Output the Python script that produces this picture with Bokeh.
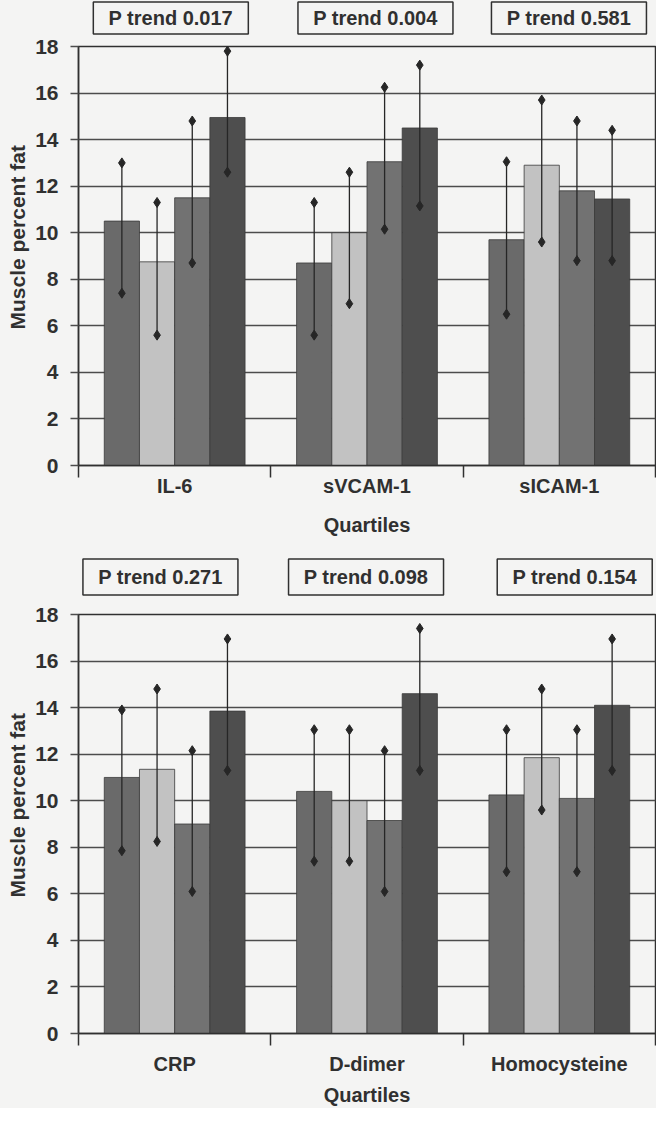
from bokeh.plotting import figure
from bokeh.models import FixedTicker, Range1d, ColumnDataSource, Title
from bokeh.layouts import column
from bokeh.embed import file_html
from bokeh.resources import INLINE
from bokeh.core.properties import value

# ---------------- data ----------------
quartiles = ["Q1", "Q2", "Q3", "Q4"]
quartile_colors = ["#6a6a6a", "#c2c2c2", "#727272", "#4e4e4e"]

top_markers = ["IL-6", "sVCAM-1", "sICAM-1"]
top_ptrend = ["P trend 0.017", "P trend 0.004", "P trend 0.581"]
bottom_markers = ["CRP", "D-dimer", "Homocysteine"]
bottom_ptrend = ["P trend 0.271", "P trend 0.098", "P trend 0.154"]

il6_mean = [10.5, 8.75, 11.5, 14.95]
il6_upper = [13.0, 11.3, 14.8, 17.8]
il6_lower = [7.4, 5.6, 8.7, 12.6]

svcam_mean = [8.7, 10.0, 13.05, 14.5]
svcam_upper = [11.3, 12.6, 16.25, 17.2]
svcam_lower = [5.6, 6.95, 10.15, 11.15]

sicam_mean = [9.7, 12.9, 11.8, 11.45]
sicam_upper = [13.05, 15.7, 14.8, 14.4]
sicam_lower = [6.5, 9.6, 8.8, 8.8]

crp_mean = [11.0, 11.35, 9.0, 13.85]
crp_upper = [13.9, 14.8, 12.15, 16.95]
crp_lower = [7.85, 8.25, 6.1, 11.3]

ddimer_mean = [10.4, 10.0, 9.15, 14.6]
ddimer_upper = [13.05, 13.05, 12.15, 17.4]
ddimer_lower = [7.4, 7.4, 6.1, 11.3]

homocys_mean = [10.25, 11.85, 10.1, 14.1]
homocys_upper = [13.05, 14.8, 13.05, 16.95]
homocys_lower = [6.95, 9.6, 6.95, 11.3]

y_ticks = [0, 2, 4, 6, 8, 10, 12, 14, 16, 18]
y_title = "Muscle percent fat"
x_title = "Quartiles"

FONT = "Liberation Sans"
BG = "#f4f4f3"
INK = "#303030"
GRID = "#4c4c4c"
BAR_W = 0.183
W = 656
LEFT = 77


def make_header(ptrends, box_x, box_y, height, box_h):
    h = figure(width=W, height=height, output_backend="svg", title=None,
               toolbar_location=None, x_range=Range1d(0, 3),
               y_range=Range1d(0, 1), x_axis_type=None, y_axis_type=None,
               min_border_left=LEFT, min_border_right=1, min_border_top=0,
               min_border_bottom=0)
    h.background_fill_color = BG
    h.border_fill_color = BG
    h.outline_line_color = None
    h.grid.visible = False
    src = ColumnDataSource(dict(x=box_x, y=[box_y] * len(box_x), t=ptrends))
    h.rect(x="x", y="y", width=155, height=box_h, width_units="screen",
           height_units="screen", source=src, fill_color=BG,
           line_color=INK, line_width=1.5)
    h.text(x="x", y="y", text="t", source=src, text_align="center",
           text_baseline="middle", text_font=value(FONT),
           text_font_style="bold", text_font_size="20px", text_color=INK)
    return h


def make_panel(markers, means, uppers, lowers, height, mb_top, mb_bottom,
               cat_standoff, title_standoff):
    p = figure(width=W, height=height, output_backend="svg", title=None,
               toolbar_location=None, x_range=Range1d(0, 3),
               y_range=Range1d(0, 18), min_border_left=LEFT,
               min_border_right=1, min_border_top=mb_top,
               min_border_bottom=mb_bottom)
    p.background_fill_color = BG
    p.border_fill_color = BG
    p.outline_line_color = INK
    p.outline_line_width = 1.5

    # bars with error bars
    for qi, q in enumerate(quartiles):
        offs = (qi - 1.5) * BAR_W
        xs = [i + 0.5 + offs for i in range(len(markers))]
        tops = [m[qi] for m in means]
        his = [u[qi] for u in uppers]
        los = [l[qi] for l in lowers]
        src = ColumnDataSource(dict(x=xs, top=tops, hi=his, lo=los))
        p.vbar(x="x", top="top", bottom=0, width=BAR_W, source=src,
               fill_color=quartile_colors[qi], line_color="#3a3a3a",
               line_width=0.8)
        p.segment(x0="x", y0="lo", x1="x", y1="hi", source=src,
                  line_color="#262626", line_width=1.3)
        p.scatter(x="x", y="hi", source=src, marker="diamond", size=10,
                  fill_color="#262626", line_color="#262626")
        p.scatter(x="x", y="lo", source=src, marker="diamond", size=10,
                  fill_color="#262626", line_color="#262626")

    # grid
    p.xgrid.visible = False
    p.ygrid.ticker = FixedTicker(ticks=y_ticks)
    p.ygrid.grid_line_color = GRID
    p.ygrid.grid_line_width = 1.4
    p.ygrid.level = "underlay"

    # y axis
    ya = p.yaxis[0]
    ya.ticker = FixedTicker(ticks=y_ticks)
    ya.major_label_text_font = FONT
    ya.major_label_text_font_style = "bold"
    ya.major_label_text_font_size = "21px"
    ya.major_label_text_color = INK
    ya.major_label_standoff = 12
    ya.major_tick_out = 8
    ya.major_tick_in = 0
    ya.minor_tick_line_color = None
    ya.axis_line_color = INK
    ya.axis_line_width = 1.5
    ya.major_tick_line_color = GRID
    ya.major_tick_line_width = 1.4

    # y title, placed a little above the frame centre as in the original
    p.add_layout(Title(text=y_title, align="left", offset=136,
                       text_font=FONT, text_font_style="bold",
                       text_font_size="21px", text_color=INK,
                       standoff=7), "left")

    # x axis: labels centred on groups, ticks at group boundaries
    xa = p.xaxis[0]
    centers = [i + 0.5 for i in range(len(markers))]
    bounds = [i for i in range(len(markers) + 1)]
    xa.ticker = FixedTicker(ticks=centers, minor_ticks=bounds)
    xa.major_label_overrides = {c: m for c, m in zip(centers, markers)}
    xa.major_tick_out = 0
    xa.major_tick_in = 0
    xa.major_tick_line_color = None
    xa.minor_tick_out = 12
    xa.minor_tick_in = 0
    xa.minor_tick_line_color = INK
    xa.minor_tick_line_width = 1.5
    xa.axis_line_color = INK
    xa.axis_line_width = 1.5
    xa.major_label_text_font = FONT
    xa.major_label_text_font_style = "bold"
    xa.major_label_text_font_size = "20px"
    xa.major_label_text_color = INK
    xa.major_label_standoff = cat_standoff
    xa.axis_label = x_title
    xa.axis_label_text_font = FONT
    xa.axis_label_text_font_style = "bold"
    xa.axis_label_text_font_size = "20px"
    xa.axis_label_text_color = INK
    xa.axis_label_standoff = title_standoff
    return p


h1 = make_header(top_ptrend, [0.48, 1.544, 2.55], 0.5, 35, 32)
p1 = make_panel(top_markers, [il6_mean, svcam_mean, sicam_mean],
                [il6_upper, svcam_upper, sicam_upper],
                [il6_lower, svcam_lower, sicam_lower], 512, 11, 82, -3, 14)
h2 = make_header(bottom_ptrend, [0.426, 1.495, 2.58], 0.4636, 55, 36)
p2 = make_panel(bottom_markers, [crp_mean, ddimer_mean, homocys_mean],
                [crp_upper, ddimer_upper, homocys_upper],
                [crp_lower, ddimer_lower, homocys_lower], 506, 12, 74, 7, 6)

layout = column(h1, p1, h2, p2, spacing=0)
layout.background = BG
open("out.html", "w").write(file_html(layout, INLINE))
